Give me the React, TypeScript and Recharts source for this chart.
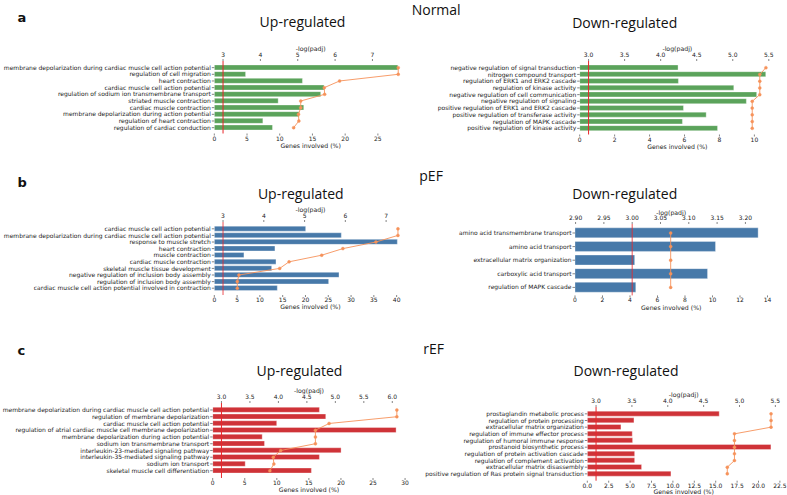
import React from 'react';
import { ComposedChart, Bar, Line, XAxis, YAxis, ReferenceLine } from 'recharts';

// ---- Normal ----
const normalUpTerms = [
  'membrane depolarization during cardiac muscle cell action potential',
  'regulation of cell migration',
  'heart contraction',
  'cardiac muscle cell action potential',
  'regulation of sodium ion transmembrane transport',
  'striated muscle contraction',
  'cardiac muscle contraction',
  'membrane depolarization during action potential',
  'regulation of heart contraction',
  'regulation of cardiac conduction',
];
const normalUpGenes = [28.05, 4.78, 13.47, 16.77, 16.26, 9.76, 13.67, 12.96, 7.42, 8.89];
const normalUpLogP = [7.69, 7.69, 6.12, 5.71, 5.72, 5.08, 5.08, 5.02, 5.03, 4.89];
const normalUpGeneTicks = [0, 5, 10, 15, 20, 25];
const normalUpLogTicks = [3, 4, 5, 6, 7];

const normalDownTerms = [
  'negative regulation of signal transduction',
  'nitrogen compound transport',
  'regulation of ERK1 and ERK2 cascade',
  'regulation of kinase activity',
  'negative regulation of cell communication',
  'negative regulation of signaling',
  'positive regulation of ERK1 and ERK2 cascade',
  'positive regulation of transferase activity',
  'regulation of MAPK cascade',
  'positive regulation of kinase activity',
];
const normalDownGenes = [5.63, 10.65, 5.65, 8.82, 10.13, 9.54, 5.94, 7.24, 5.88, 7.89];
const normalDownLogP = [5.46, 5.375, 5.375, 5.375, 5.375, 5.27, 5.27, 5.27, 5.27, 5.27];
const normalDownGeneTicks = [0, 2, 4, 6, 8, 10];
const normalDownLogTicks = [3.0, 3.5, 4.0, 4.5, 5.0, 5.5];

// ---- pEF ----
const pefUpTerms = [
  'cardiac muscle cell action potential',
  'membrane depolarization during cardiac muscle cell action potential',
  'response to muscle stretch',
  'heart contraction',
  'muscle contraction',
  'cardiac muscle contraction',
  'skeletal muscle tissue development',
  'negative regulation of inclusion body assembly',
  'regulation of inclusion body assembly',
  'cardiac muscle cell action potential involved in contraction',
];
const pefUpGenes = [20.04, 27.86, 40.15, 13.3, 6.5, 13.53, 12.58, 27.35, 25.08, 13.82];
const pefUpLogP = [7.29, 7.29, 6.75, 5.94, 5.42, 4.62, 4.39, 3.39, 3.35, 3.35];
const pefUpGeneTicks = [0, 5, 10, 15, 20, 25, 30, 35, 40];
const pefUpLogTicks = [3, 4, 5, 6, 7];

const pefDownTerms = [
  'amino acid transmembrane transport',
  'amino acid transport',
  'extracellular matrix organization',
  'carboxylic acid transport',
  'regulation of MAPK cascade',
];
const pefDownGenes = [13.32, 10.22, 4.34, 9.64, 4.42];
const pefDownLogP = [3.068, 3.068, 3.068, 3.068, 3.068];
const pefDownGeneTicks = [0, 2, 4, 6, 8, 10, 12, 14];
const pefDownLogTicks = [2.9, 2.95, 3.0, 3.05, 3.1, 3.15, 3.2];

// ---- rEF ----
const refUpTerms = [
  'membrane depolarization during cardiac muscle cell action potential',
  'regulation of membrane depolarization',
  'cardiac muscle cell action potential',
  'regulation of atrial cardiac muscle cell membrane depolarization',
  'membrane depolarization during action potential',
  'sodium ion transmembrane transport',
  'interleukin-23-mediated signaling pathway',
  'interleukin-35-mediated signaling pathway',
  'sodium ion transport',
  'skeletal muscle cell differentiation',
];
const refUpGenes = [16.64, 17.63, 9.98, 28.6, 7.72, 8.08, 20.02, 16.64, 5.07, 15.39];
const refUpLogP = [6.08, 6.08, 4.89, 4.65, 4.65, 4.65, 4.04, 3.91, 3.92, 3.85];
const refUpGeneTicks = [0, 5, 10, 15, 20, 25, 30];
const refUpLogTicks = [3.0, 3.5, 4.0, 4.5, 5.0, 5.5, 6.0];

const refDownTerms = [
  'prostaglandin metabolic process',
  'regulation of protein processing',
  'extracellular matrix organization',
  'regulation of immune effector process',
  'regulation of humoral immune response',
  'prostanoid biosynthetic process',
  'regulation of protein activation cascade',
  'regulation of complement activation',
  'extracellular matrix disassembly',
  'positive regulation of Ras protein signal transduction',
];
const refDownGenes = [15.41, 5.45, 3.93, 5.25, 5.29, 21.45, 5.53, 5.53, 6.34, 9.77];
const refDownLogP = [5.44, 5.44, 5.44, 4.93, 4.93, 4.93, 4.93, 4.93, 4.83, 4.83];
const refDownGeneTicks = [0, 2.5, 5, 7.5, 10, 12.5, 15, 17.5, 20, 22.5];
const refDownLogTicks = [3.0, 3.5, 4.0, 4.5, 5.0, 5.5];

const GREEN = '#5ba35b';
const BLUE = '#4779a9';
const RED = '#cf3338';
const ORANGE = '#f6925a';
const CUT = '#e8262a';

const tickFont = { fontSize: 6, fontFamily: 'DejaVu Sans', fill: '#222' };
const tickLine = { stroke: '#333', strokeWidth: 0.6 };

// plain one-line label, so long GO terms are not wrapped
function TermTick(props: any) {
  const { x, y, payload } = props;
  return (
    <text x={x} y={y} dy="0.35em" textAnchor="end" {...tickFont}>
      {payload.value}
    </text>
  );
}

type PanelProps = {
  terms: string[];
  genes: number[];
  logp: number[];
  color: string;
  geneDomain: [number, number];
  geneTicks: number[];
  geneDigits: number;
  logDomain: [number, number];
  logTicks: number[];
  logDigits: number;
  chartLeft: number;
  plotLeft: number;
  plotRight: number;
  axesTop: number;
  axesBottom: number;
  padTop: number;
  padBottom: number;
  barGap: string;
  cutAlpha?: number;
};

function Panel(p: PanelProps) {
  const data = p.terms.map((term, i) => ({ term, genes: p.genes[i], logp: p.logp[i] }));
  const top = p.axesTop - 20;
  const height = p.axesBottom - p.axesTop + 40;
  const width = p.plotRight - p.chartLeft + 8;
  return (
    <div style={{ position: 'absolute', left: p.chartLeft, top }}>
      <ComposedChart
        layout="vertical"
        width={width}
        height={height}
        data={data}
        margin={{ top: 0, right: 8, bottom: 0, left: 0 }}
        barCategoryGap={p.barGap}
      >
        <XAxis
          xAxisId="top"
          orientation="top"
          type="number"
          domain={p.logDomain}
          ticks={p.logTicks}
          tickFormatter={(v: number) => v.toFixed(p.logDigits)}
          allowDataOverflow
          interval={0}
          height={20}
          axisLine={false}
          tickSize={2}
          tickMargin={1.8}
          tick={tickFont}
          tickLine={tickLine}
        />
        <XAxis
          xAxisId="bottom"
          orientation="bottom"
          type="number"
          domain={p.geneDomain}
          ticks={p.geneTicks}
          tickFormatter={(v: number) => v.toFixed(p.geneDigits)}
          allowDataOverflow
          interval={0}
          height={20}
          axisLine={false}
          tickSize={2}
          tickMargin={0.8}
          tick={tickFont}
          tickLine={tickLine}
        />
        <YAxis
          type="category"
          dataKey="term"
          width={p.plotLeft - p.chartLeft}
          padding={{ top: p.padTop, bottom: p.padBottom }}
          interval={0}
          axisLine={false}
          tickSize={2.5}
          tickMargin={1}
          tick={<TermTick />}
          tickLine={tickLine}
        />
        <Bar
          xAxisId="bottom"
          dataKey="genes"
          fill={p.color}
          stroke="#ffffff"
          strokeOpacity={0.55}
          strokeWidth={0.6}
          isAnimationActive={false}
        />
        <ReferenceLine xAxisId="top" x={3} stroke={CUT} strokeOpacity={p.cutAlpha ?? 1} strokeWidth={1} />
        <Line
          xAxisId="top"
          dataKey="logp"
          type="linear"
          stroke={ORANGE}
          strokeWidth={0.9}
          dot={{ r: 1.5, fill: ORANGE, stroke: ORANGE, strokeWidth: 0.4 }}
          isAnimationActive={false}
        />
      </ComposedChart>
    </div>
  );
}

const titleFont = { fontFamily: 'Open Sans', fontSize: 14, fill: '#111' };
const letterFont = { fontFamily: 'DejaVu Sans', fontSize: 13, fontWeight: 700, fill: '#111' };
const axisLabelFont = { fontFamily: 'DejaVu Sans', fontSize: 6.2, fill: '#222' };

const panels: PanelProps[] = [
  {
    terms: normalUpTerms, genes: normalUpGenes, logp: normalUpLogP, color: GREEN,
    geneDomain: [0, 29.45], geneTicks: normalUpGeneTicks, geneDigits: 0,
    logDomain: [2.766, 7.925], logTicks: normalUpLogTicks, logDigits: 0,
    chartLeft: 0, plotLeft: 214.3, plotRight: 407, axesTop: 61, axesBottom: 133.5,
    padTop: 3.3, padBottom: 2.5, barGap: '10%',
  },
  {
    terms: normalDownTerms, genes: normalDownGenes, logp: normalDownLogP, color: GREEN,
    geneDomain: [0, 11.18], geneTicks: normalDownGeneTicks, geneDigits: 0,
    logDomain: [2.877, 5.586], logTicks: normalDownLogTicks, logDigits: 1,
    chartLeft: 415, plotLeft: 579.7, plotRight: 775, axesTop: 61, axesBottom: 134.5,
    padTop: 3.3, padBottom: 2.8, barGap: '10%',
  },
  {
    terms: pefUpTerms, genes: pefUpGenes, logp: pefUpLogP, color: BLUE,
    geneDomain: [0, 42.16], geneTicks: pefUpGeneTicks, geneDigits: 0,
    logDomain: [2.786, 7.5], logTicks: pefUpLogTicks, logDigits: 0,
    chartLeft: 0, plotLeft: 214.3, plotRight: 406.5, axesTop: 221.5, axesBottom: 294.5,
    padTop: 3.5, padBottom: 3.5, barGap: '10%', cutAlpha: 0.8,
  },
  {
    terms: pefDownTerms, genes: pefDownGenes, logp: pefDownLogP, color: BLUE,
    geneDomain: [0, 14], geneTicks: pefDownGeneTicks, geneDigits: 0,
    logDomain: [2.899, 3.239], logTicks: pefDownLogTicks, logDigits: 2,
    chartLeft: 415, plotLeft: 575, plotRight: 767.5, axesTop: 224.3, axesBottom: 295.7,
    padTop: 2.2, padBottom: 1.2, barGap: '12%', cutAlpha: 0.8,
  },
  {
    terms: refUpTerms, genes: refUpGenes, logp: refUpLogP, color: RED,
    geneDomain: [0, 30.05], geneTicks: refUpGeneTicks, geneDigits: 0,
    logDomain: [2.846, 6.23], logTicks: refUpLogTicks, logDigits: 1,
    chartLeft: 0, plotLeft: 212.7, plotRight: 405.4, axesTop: 403, axesBottom: 478,
    padTop: 3.6, padBottom: 3.9, barGap: '10%',
  },
  {
    terms: refDownTerms, genes: refDownGenes, logp: refDownLogP, color: RED,
    geneDomain: [0, 22.52], geneTicks: refDownGeneTicks, geneDigits: 1,
    logDomain: [2.878, 5.566], logTicks: refDownLogTicks, logDigits: 1,
    chartLeft: 415, plotLeft: 587.3, plotRight: 780.1, axesTop: 406.5, axesBottom: 480.2,
    padTop: 3.5, padBottom: 3.5, barGap: '10%',
  },
];

const titles = [
  { text: 'Up-regulated', x: 302.5, y: 27.3 },
  { text: 'Down-regulated', x: 624.7, y: 28.3 },
  { text: 'Up-regulated', x: 300.8, y: 199.3 },
  { text: 'Down-regulated', x: 624.7, y: 199.3 },
  { text: 'Up-regulated', x: 299.5, y: 376 },
  { text: 'Down-regulated', x: 626, y: 376 },
];

const groups = [
  { letter: 'a', ly: 21.7, name: 'Normal', nx: 411.7, ny: 14.5 },
  { letter: 'b', ly: 187.3, name: 'pEF', nx: 419.3, ny: 181 },
  { letter: 'c', ly: 355, name: 'rEF', nx: 423.3, ny: 354.3 },
];

export default function App() {
  return (
    <div style={{ position: 'absolute', left: 0, top: 0, width: 787, height: 495, background: '#fff', overflow: 'hidden' }}>
      {panels.map((p, i) => (
        <Panel key={i} {...p} />
      ))}
      <svg width={787} height={495} style={{ position: 'absolute', left: 0, top: 0, pointerEvents: 'none' }}>
        {groups.map((g) => (
          <g key={g.letter}>
            <text x={17.5} y={g.ly} {...letterFont}>{g.letter}</text>
            <text x={g.nx} y={g.ny} {...titleFont}>{g.name}</text>
          </g>
        ))}
        {titles.map((t, i) => (
          <text key={i} x={t.x} y={t.y} textAnchor="middle" {...titleFont}>{t.text}</text>
        ))}
        {panels.map((p, i) => {
          const cx = (p.plotLeft + p.plotRight) / 2;
          return (
            <g key={i}>
              <text x={cx} y={p.axesTop - 9.8} textAnchor="middle" {...axisLabelFont}>-log(padj)</text>
              <text x={cx} y={p.axesBottom + 14.2} textAnchor="middle" {...axisLabelFont}>Genes involved (%)</text>
            </g>
          );
        })}
      </svg>
    </div>
  );
}
